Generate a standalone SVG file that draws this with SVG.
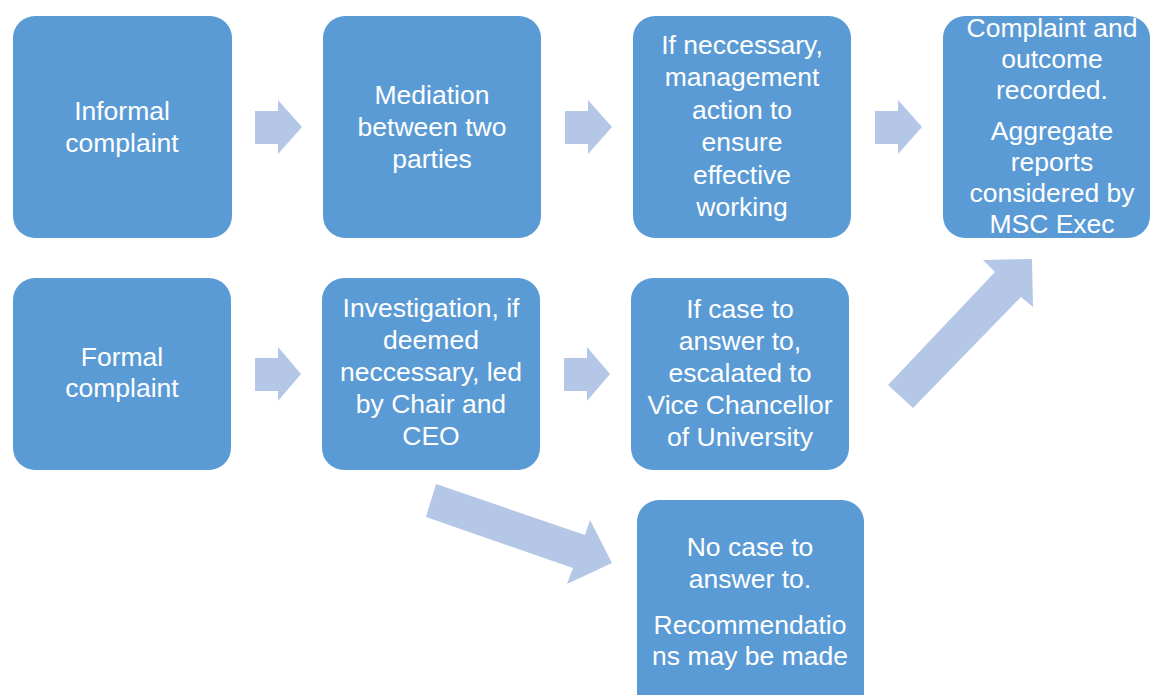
<svg xmlns="http://www.w3.org/2000/svg" width="1151" height="695" viewBox="0 0 1151 695">
  <style>
    .box { fill: #5B9BD5; }
    .arrow { fill: #B4C7E7; }
    .label { fill: #FFFFFF; font-family: "Liberation Sans", Arial, sans-serif; font-size: 26.5px; text-anchor: middle; }
  </style>
  <rect width="1151" height="695" fill="#FFFFFF"/>

  <!-- connectors: block arrows -->
  <g id="connectors">
    <polygon class="arrow" points="255,111 278,111 278,100 302,127 278,154 278,144 255,144"/>
    <polygon class="arrow" points="565,111 588,111 588,100 612,127 588,154 588,144 565,144"/>
    <polygon class="arrow" points="875,111 898,111 898,100 922,127 898,154 898,144 875,144"/>
    <polygon class="arrow" points="255,358 278,358 278,347 301,374 278,401 278,391 255,391"/>
    <polygon class="arrow" points="564,358 587,358 587,347 610,374 587,401 587,391 564,391"/>
    <polygon class="arrow" points="436,484 585,535 590,520 612,563 567,584 573,568 426,517"/>
    <polygon class="arrow" points="888,385 995,272 983,260 1032,259 1033,307 1021,297 913,408"/>
  </g>

  <g id="informal-complaint">
    <rect class="box" x="13" y="16" width="219" height="222" rx="22"/>
    <text class="label" x="122" y="120">Informal</text>
    <text class="label" x="122" y="152">complaint</text>
  </g>

  <g id="mediation">
    <rect class="box" x="323" y="16" width="218" height="222" rx="22"/>
    <text class="label" x="432" y="104">Mediation</text>
    <text class="label" x="432" y="136">between two</text>
    <text class="label" x="432" y="168">parties</text>
  </g>

  <g id="management-action">
    <rect class="box" x="633" y="16" width="218" height="222" rx="22"/>
    <text class="label" x="742" y="54">If neccessary,</text>
    <text class="label" x="742" y="86">management</text>
    <text class="label" x="742" y="119">action to</text>
    <text class="label" x="742" y="151">ensure</text>
    <text class="label" x="742" y="184">effective</text>
    <text class="label" x="742" y="216">working</text>
  </g>

  <g id="recorded">
    <rect class="box" x="943" y="16" width="207" height="222" rx="22"/>
    <text class="label" x="1052" y="37">Complaint and</text>
    <text class="label" x="1052" y="68">outcome</text>
    <text class="label" x="1052" y="99">recorded.</text>
    <text class="label" x="1052" y="140">Aggregate</text>
    <text class="label" x="1052" y="171">reports</text>
    <text class="label" x="1052" y="202">considered by</text>
    <text class="label" x="1052" y="233">MSC Exec</text>
  </g>

  <g id="formal-complaint">
    <rect class="box" x="13" y="278" width="218" height="192" rx="22"/>
    <text class="label" x="122" y="366">Formal</text>
    <text class="label" x="122" y="397">complaint</text>
  </g>

  <g id="investigation">
    <rect class="box" x="322" y="278" width="218" height="192" rx="22"/>
    <text class="label" x="431" y="317">Investigation, if</text>
    <text class="label" x="431" y="349">deemed</text>
    <text class="label" x="431" y="381">neccessary, led</text>
    <text class="label" x="431" y="413">by Chair and</text>
    <text class="label" x="431" y="445">CEO</text>
  </g>

  <g id="escalated">
    <rect class="box" x="631" y="278" width="218" height="192" rx="22"/>
    <text class="label" x="740" y="318">If case to</text>
    <text class="label" x="740" y="350">answer to,</text>
    <text class="label" x="740" y="382">escalated to</text>
    <text class="label" x="740" y="414">Vice Chancellor</text>
    <text class="label" x="740" y="446">of University</text>
  </g>

  <g id="no-case">
    <rect class="box" x="637" y="500" width="227" height="215" rx="22"/>
    <text class="label" x="750" y="556">No case to</text>
    <text class="label" x="750" y="588">answer to.</text>
    <text class="label" x="750" y="634">Recommendatio</text>
    <text class="label" x="750" y="665">ns may be made</text>
  </g>
</svg>
